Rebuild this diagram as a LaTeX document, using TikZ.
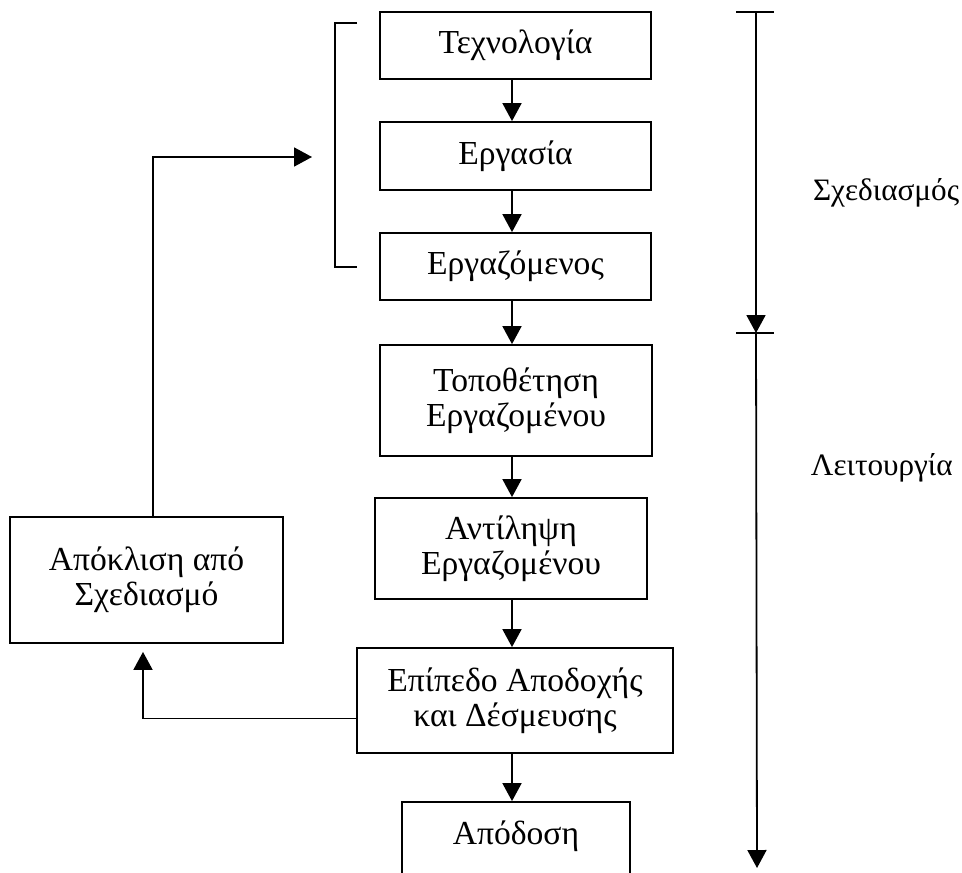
\documentclass[tikz,border=0pt]{standalone}
\usepackage{fontspec}
\setmainfont{Liberation Serif}
\usetikzlibrary{arrows.meta}
\begin{document}
\begin{tikzpicture}[x=0.5pt,y=-0.5pt,
  line width=0.9pt,
  txt/.style={font=\fontsize{16.8pt}{17.5pt}\selectfont, align=center},
  sidetxt/.style={font=\fontsize{15.6pt}{17.5pt}\selectfont, inner sep=0pt},
  stepbox/.style={txt, draw, inner sep=0pt, minimum width=#1},
  arr/.style={-{Triangle[length=9pt,width=9.5pt]}}]
\useasboundingbox (0,0) rectangle (962,872);

% flow of the design stage
\node[stepbox=135.5pt, minimum height=33.5pt] (tech)  at (515.5,45.5) {Τεχνολογία};
\node[stepbox=135.5pt, minimum height=34pt]   (task)  at (515.5,156)  {Εργασία};
\node[stepbox=135.5pt, minimum height=33.5pt] (empl)  at (515.5,266.5){Εργαζόμενος};

% flow of the operation stage
\node[stepbox=136pt, minimum height=55.5pt] (place) at (516,400.5) {Τοποθέτηση\\Εργαζομένου};
\node[stepbox=136pt, minimum height=50.5pt] (perc)  at (511,548.5) {Αντίληψη\\Εργαζομένου};
\node[stepbox=158pt, minimum height=52.5pt] (accept) at (515,700.5) {Επίπεδο Αποδοχής\\και Δέσμευσης};
\node[stepbox=114pt, minimum height=39pt]   (perf)  at (516,841) {};
\node[txt] (perftxt) at (516,836) {Απόδοση};

% deviation box on the left
\node[stepbox=136.5pt, minimum height=63pt] (dev) at (146.5,580) {Απόκλιση από\\Σχεδιασμό};

% arrows down the main column
\coordinate (col) at (512,0);
\draw[arr] (tech.south -| col)   -- (task.north -| col);
\draw[arr] (task.south -| col)   -- (empl.north -| col);
\draw[arr] (empl.south -| col)   -- (place.north -| col);
\draw[arr] (place.south -| col)  -- (perc.north -| col);
\draw[arr] (perc.south -| col)   -- (accept.north -| col);
\draw[arr] (accept.south -| col) -- (perf.north -| col);

% feedback loop
\coordinate (fbend) at (312,157);
\draw[arr] ([xshift=3.25pt]dev.north) |- (fbend);
\draw[arr] ([yshift=-9pt]accept.west) -| ([xshift=-1.75pt,yshift=-4pt]dev.south);

% bracket grouping the design factors
\coordinate (bt) at (357,23);
\coordinate (bb) at (357,267);
\draw (bt) -- (335,23) -- (335,267) -- (bb);

% time axis on the right
\coordinate (t0) at (756,12);
\coordinate (t1) at (756,333);
\coordinate (t2) at (757,868);
\draw (736,12) -- (774,12);
\draw (736,333) -- (774,333);
\draw[arr] (t0) -- (t1);
\draw[arr] (t1) -- (t2);

\node[sidetxt, anchor=east] (design) at (960,193) {Σχεδιασμός};
\node[sidetxt, anchor=west] (oper)   at (810,468) {Λειτουργία};
\end{tikzpicture}
\end{document}
